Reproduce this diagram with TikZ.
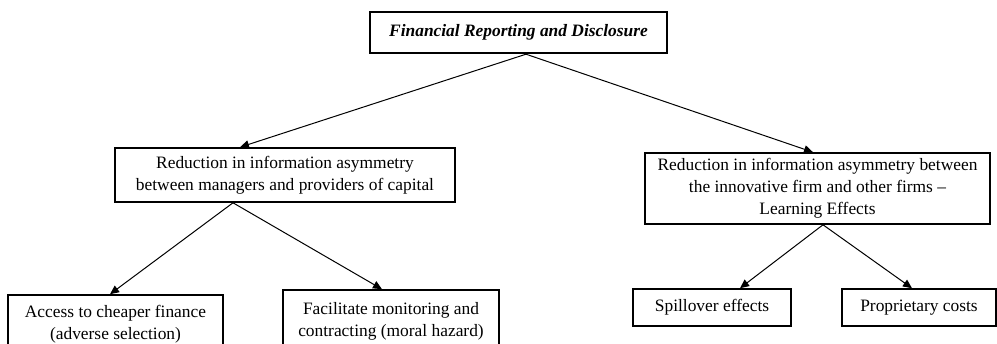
\documentclass[tikz,border=0pt]{standalone}
\usepackage{fontspec}
\setmainfont{Liberation Serif}
\usetikzlibrary{arrows.meta}
\begin{document}
\begin{tikzpicture}[x=1pt,y=-1pt,
  box/.style={draw,line width=1.6pt,align=center,inner sep=0pt,font=\fontsize{17.4}{22}\selectfont},
  topbox/.style={box,line width=2.4pt},
  conn/.style={line width=1pt,-{Triangle[length=9pt,width=8pt]}}]
\useasboundingbox (0,0) rectangle (997,344);
\clip (0,0) rectangle (997,344);
\node[topbox,minimum width=297pt,minimum height=41pt] (top) at (518.5,32.5) {\textbf{\textit{Financial Reporting and Disclosure}}};
\node[box,minimum width=340pt,minimum height=54pt] (lm) at (285,175) {Reduction in information asymmetry\\between managers and providers of capital};
\node[box,minimum width=345pt,minimum height=71pt] (rm) at (817.5,188.5) {Reduction in information asymmetry between\\the innovative firm and other firms --\\Learning Effects};
\node[box,minimum width=215pt,minimum height=58pt] (b1) at (115.5,324) {Access to cheaper finance\\(adverse selection)};
\node[box,minimum width=216pt,minimum height=62pt] (b2) at (391,321) {Facilitate monitoring and\\contracting (moral hazard)};
\node[box,minimum width=158pt,minimum height=37pt] (b3) at (712,307.5) {Spillover effects};
\node[box,minimum width=154pt,minimum height=37pt] (b4) at (919,307.5) {Proprietary costs};
\draw[conn] ([xshift=7.5pt]top.south) -- ([xshift=-45pt]lm.north);
\draw[conn] ([xshift=7.5pt]top.south) -- ([xshift=-4.5pt]rm.north);
\draw[conn] ([xshift=-52pt]lm.south) -- ([xshift=-5.5pt]b1.north);
\draw[conn] ([xshift=-52pt]lm.south) -- ([xshift=-9pt]b2.north);
\draw[conn] ([xshift=5.5pt]rm.south) -- ([xshift=28pt]b3.north);
\draw[conn] ([xshift=5.5pt]rm.south) -- ([xshift=-7pt]b4.north);
\end{tikzpicture}
\end{document}
